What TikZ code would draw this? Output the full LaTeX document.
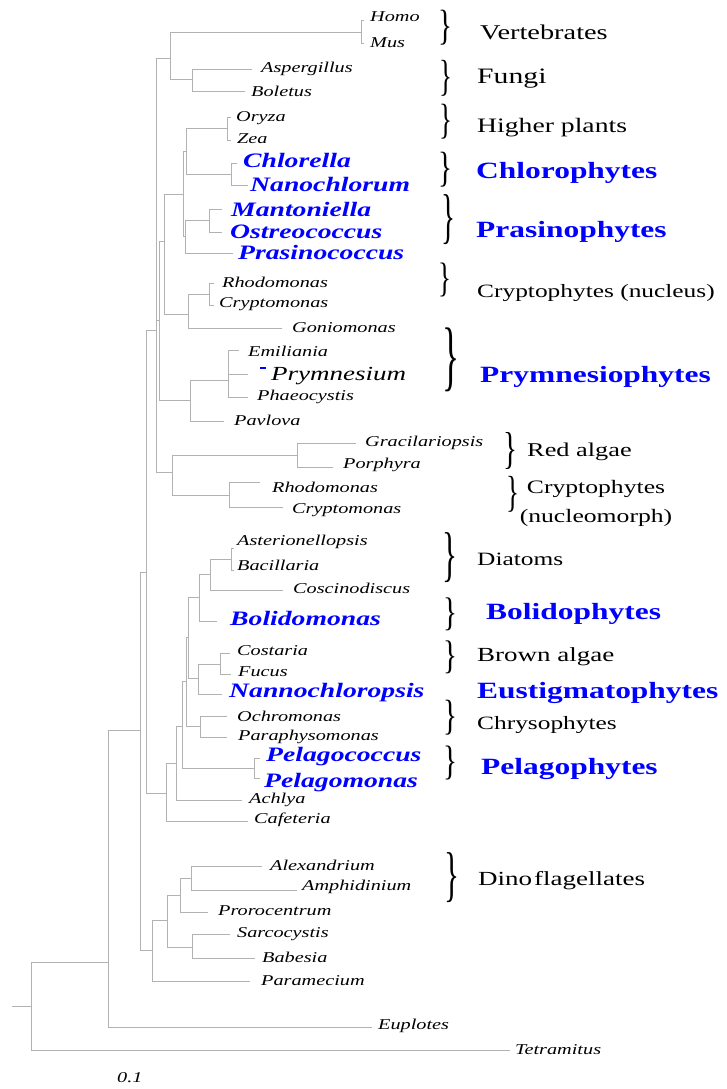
\documentclass[tikz,border=0pt]{standalone}
\usepackage{fontspec}
\setmainfont{Liberation Serif}[FakeStretch=1.35]
\newfontfamily\bracefont{Liberation Serif}
\usepackage{graphicx}
\usetikzlibrary{positioning}
\newcommand{\clade}[2]{\resizebox*{#1}{#2}{\bracefont\}}}
\begin{document}
\begin{tikzpicture}[x=1pt,y=-1pt,
 branch/.style={draw=gray!60,line width=0.9pt},
 taxon/.style={anchor=west,inner sep=0pt,font=\fontsize{15}{17}\selectfont\itshape},
 keyTaxon/.style={taxon,text=blue,font=\fontsize{20.5}{23}\selectfont\bfseries\itshape},
 group/.style={anchor=west,inner sep=0pt,font=\fontsize{20}{24}\selectfont},
 keyGroup/.style={group,text=blue,font=\fontsize{23.3}{27}\selectfont\bfseries},
 bracket/.style={inner sep=0pt}]
 \useasboundingbox (0,0) rectangle (726,1089);
 % internal nodes
 \coordinate (stem) at (12,1006);
 \coordinate (root) at (31,1006);
 \coordinate (g) at (108,962);
 \coordinate (f) at (140,730);
 \coordinate (e) at (146,572);
 \coordinate (c) at (156,330);
 \coordinate (vf) at (170,58);
 \coordinate (vert) at (361,32);
 \coordinate (fungi) at (192,79);
 \coordinate (b) at (159,320);
 \coordinate (a) at (164,241);
 \coordinate (green) at (183,194);
 \coordinate (plchl) at (186,151);
 \coordinate (plants) at (227,128);
 \coordinate (chloro) at (231,174);
 \coordinate (prasino) at (185,236);
 \coordinate (mantost) at (209,220);
 \coordinate (cryptoN) at (188,314);
 \coordinate (rhocry) at (209,294);
 \coordinate (prymn) at (190,400);
 \coordinate (ept) at (228,380);
 \coordinate (rednm) at (172,472);
 \coordinate (red) at (297,455);
 \coordinate (nucleo) at (229,495);
 \coordinate (s1) at (166,793);
 \coordinate (s2) at (176,763);
 \coordinate (s3) at (182,726);
 \coordinate (pelago) at (254,768);
 \coordinate (s4) at (186,681);
 \coordinate (chryso) at (200,726);
 \coordinate (s5) at (188,637);
 \coordinate (s6) at (199,597);
 \coordinate (s7) at (198,678);
 \coordinate (diatom) at (210,574);
 \coordinate (diatA) at (231,559);
 \coordinate (brown) at (220,664);
 \coordinate (alv) at (152,950);
 \coordinate (alv2) at (167,920);
 \coordinate (apic) at (192,947);
 \coordinate (dino) at (180,895);
 \coordinate (dinoA) at (191,878);
 % branch tips
 \coordinate (tHomo) at (364,20);
 \coordinate (tMus) at (364,43);
 \coordinate (tAsper) at (252,69);
 \coordinate (tBoletus) at (245,91);
 \coordinate (tOryza) at (231,117);
 \coordinate (tZea) at (231,140);
 \coordinate (tChlorella) at (237,163);
 \coordinate (tNano) at (248,185);
 \coordinate (tManto) at (222,209);
 \coordinate (tOstreo) at (222,232);
 \coordinate (tPrasino) at (233,253);
 \coordinate (tRhodoA) at (214,283);
 \coordinate (tCryptoA) at (214,305);
 \coordinate (tGonio) at (282,328);
 \coordinate (tEmil) at (239,350);
 \coordinate (tPrym) at (248,374);
 \coordinate (tPhaeo) at (248,397);
 \coordinate (tPavlova) at (224,421);
 \coordinate (tGracil) at (356,443);
 \coordinate (tPorph) at (333,467);
 \coordinate (tRhodoB) at (260,482);
 \coordinate (tCryptoB) at (283,507);
 \coordinate (tAster) at (234,548);
 \coordinate (tBacil) at (234,570);
 \coordinate (tCoscino) at (283,590);
 \coordinate (tBolido) at (217,621);
 \coordinate (tCostaria) at (230,653);
 \coordinate (tFucus) at (231,674);
 \coordinate (tNannoch) at (222,694);
 \coordinate (tOchro) at (227,716);
 \coordinate (tParaph) at (227,737);
 \coordinate (tPelagoc) at (260,758);
 \coordinate (tPelagom) at (260,778);
 \coordinate (tAchlya) at (242,800);
 \coordinate (tCafet) at (248,821);
 \coordinate (tAlex) at (262,866);
 \coordinate (tAmphi) at (297,890);
 \coordinate (tProro) at (208,912);
 \coordinate (tSarco) at (230,934);
 \coordinate (tBabesia) at (255,958);
 \coordinate (tParam) at (250,981);
 \coordinate (tEuplotes) at (372,1027);
 \coordinate (tTetra) at (510,1050);
 % branches
 \draw[branch] (stem) -- (root);
 \draw[branch] (root) |- (g) (root) |- (tTetra);
 \draw[branch] (g) |- (f) (g) |- (tEuplotes);
 \draw[branch] (f) |- (e) (f) |- (alv);
 \draw[branch] (e) |- (c) (e) |- (s1);
 \draw[branch] (c) |- (vf) (c) |- (b) (c) |- (rednm);
 \draw[branch] (vf) |- (vert) (vf) |- (fungi);
 \draw[branch] (vert) |- (tHomo) (vert) |- (tMus);
 \draw[branch] (fungi) |- (tAsper) (fungi) |- (tBoletus);
 \draw[branch] (b) |- (a) (b) |- (prymn);
 \draw[branch] (a) |- (green) (a) |- (cryptoN);
 \draw[branch] (green) |- (plchl) (green) |- (prasino);
 \draw[branch] (plchl) |- (plants) (plchl) |- (chloro);
 \draw[branch] (plants) |- (tOryza) (plants) |- (tZea);
 \draw[branch] (chloro) |- (tChlorella) (chloro) |- (tNano);
 \draw[branch] (prasino) |- (mantost) (prasino) |- (tPrasino);
 \draw[branch] (mantost) |- (tManto) (mantost) |- (tOstreo);
 \draw[branch] (cryptoN) |- (rhocry) (cryptoN) |- (tGonio);
 \draw[branch] (rhocry) |- (tRhodoA) (rhocry) |- (tCryptoA);
 \draw[branch] (prymn) |- (ept) (prymn) |- (tPavlova);
 \draw[branch] (ept) |- (tEmil) (ept) |- (tPrym) (ept) |- (tPhaeo);
 \draw[branch] (rednm) |- (red) (rednm) |- (nucleo);
 \draw[branch] (red) |- (tGracil) (red) |- (tPorph);
 \draw[branch] (nucleo) |- (tRhodoB) (nucleo) |- (tCryptoB);
 \draw[branch] (s1) |- (s2) (s1) |- (tCafet);
 \draw[branch] (s2) |- (s3) (s2) |- (tAchlya);
 \draw[branch] (s3) |- (s4) (s3) |- (pelago);
 \draw[branch] (pelago) |- (tPelagoc) (pelago) |- (tPelagom);
 \draw[branch] (s4) |- (s5) (s4) |- (chryso);
 \draw[branch] (chryso) |- (tOchro) (chryso) |- (tParaph);
 \draw[branch] (s5) |- (s6) (s5) |- (s7);
 \draw[branch] (s6) |- (diatom) (s6) |- (tBolido);
 \draw[branch] (diatom) |- (diatA) (diatom) |- (tCoscino);
 \draw[branch] (diatA) |- (tAster) (diatA) |- (tBacil);
 \draw[branch] (s7) |- (brown) (s7) |- (tNannoch);
 \draw[branch] (brown) |- (tCostaria) (brown) |- (tFucus);
 \draw[branch] (alv) |- (alv2) (alv) |- (tParam);
 \draw[branch] (alv2) |- (dino) (alv2) |- (apic);
 \draw[branch] (apic) |- (tSarco) (apic) |- (tBabesia);
 \draw[branch] (dino) |- (dinoA) (dino) |- (tProro);
 \draw[branch] (dinoA) |- (tAlex) (dinoA) |- (tAmphi);
 % taxa
 \node[taxon] (homo) at (370,17) {Homo};
 \node[taxon] (mus) at (370,43) {Mus};
 \node[taxon] (asper) at (261,69) {Aspergillus};
 \node[taxon] (boletus) at (251,91) {Boletus};
 \node[taxon] (oryza) at (236,118) {Oryza};
 \node[taxon] (zea) at (237,139) {Zea};
 \node[keyTaxon] (chlorella) at (243,160) {Chlorella};
 \node[keyTaxon] (nano) at (250,185) {Nanochlorum};
 \node[keyTaxon] (manto) at (231,209) {Mantoniella};
 \node[keyTaxon] (ostreo) at (230,232) {Ostreococcus};
 \node[keyTaxon] (prasinoc) at (238,253) {Prasinococcus};
 \node[taxon] (rhodoA) at (222,282) {Rhodomonas};
 \node[taxon] (cryptoA) at (219,304) {Cryptomonas};
 \node[taxon] (gonio) at (292,328) {Goniomonas};
 \node[taxon] (emil) at (248,351) {Emiliania};
 \draw[blue,line width=1.2pt] (260,368) -- (266,368);
 \node[taxon,font=\fontsize{20}{23}\selectfont\itshape] (prym) at (271,376) {Prymnesium};
 \node[taxon] (phaeo) at (257,397) {Phaeocystis};
 \node[taxon] (pavlova) at (234,420) {Pavlova};
 \node[taxon] (gracil) at (365,443) {Gracilariopsis};
 \node[taxon] (porph) at (343,465) {Porphyra};
 \node[taxon] (rhodoB) at (272,487) {Rhodomonas};
 \node[taxon] (cryptoB) at (292,510) {Cryptomonas};
 \node[taxon] (aster) at (237,542) {Asterionellopsis};
 \node[taxon] (bacil) at (237,565) {Bacillaria};
 \node[taxon] (coscino) at (293,588) {Coscinodiscus};
 \node[keyTaxon] (bolido) at (230,618) {Bolidomonas};
 \node[taxon] (costaria) at (237,651) {Costaria};
 \node[taxon] (fucus) at (238,672) {Fucus};
 \node[keyTaxon] (nannoch) at (229,693) {Nannochloropsis};
 \node[taxon] (ochro) at (237,716) {Ochromonas};
 \node[taxon] (paraph) at (238,737) {Paraphysomonas};
 \node[keyTaxon] (pelagoc) at (266,757) {Pelagococcus};
 \node[keyTaxon] (pelagom) at (264,783) {Pelagomonas};
 \node[taxon] (achlya) at (249,800) {Achlya};
 \node[taxon] (cafet) at (254,820) {Cafeteria};
 \node[taxon] (alex) at (270,865) {Alexandrium};
 \node[taxon] (amphi) at (302,887) {Amphidinium};
 \node[taxon] (proro) at (218,911) {Prorocentrum};
 \node[taxon] (sarco) at (237,934) {Sarcocystis};
 \node[taxon] (babesia) at (262,957) {Babesia};
 \node[taxon] (param) at (261,981) {Paramecium};
 \node[taxon] (euplotes) at (378,1026) {Euplotes};
 \node[taxon] (tetra) at (515,1050) {Tetramitus};
 \node[taxon] (scale) at (117,1078) {0.1};
 % groups
 \node[bracket] (vertBr) at (445,28) {\clade{14pt}{35pt}};
 \node[group,font=\fontsize{21}{25}\selectfont] (vertTx) at (480,32) {Vertebrates};
 \node[bracket] (fungiBr) at (446,78) {\clade{13pt}{36pt}};
 \node[group,font=\fontsize{22}{26}\selectfont] (fungiTx) at (477,79) {Fungi};
 \node[bracket] (plantsBr) at (446,122) {\clade{13pt}{35pt}};
 \node[group,font=\fontsize{20.5}{24}\selectfont] (plantsTx) at (477,128) {Higher plants};
 \node[bracket] (chloroBr) at (445,170) {\clade{14pt}{35pt}};
 \node[keyGroup] (chloroTx) at (476,173) {Chlorophytes};
 \node[bracket] (prasinoBr) at (448,220) {\clade{14pt}{50pt}};
 \node[keyGroup] (prasinoTx) at (476,232) {Prasinophytes};
 \node[bracket] (cryptoNBr) at (445,280) {\clade{13pt}{34pt}};
 \node[group,font=\fontsize{18.8}{22}\selectfont] (cryptoNTx) at (477,293) {Cryptophytes (nucleus)};
 \node[bracket] (prymnBr) at (451,360) {\clade{17pt}{64pt}};
 \node[keyGroup] (prymnTx) at (480,377) {Prymnesiophytes};
 \node[bracket] (redBr) at (510,451) {\clade{14pt}{37pt}};
 \node[group,font=\fontsize{19.5}{23}\selectfont] (redTx) at (527,452) {Red algae};
 \node[bracket] (nucleoBr) at (513,494) {\clade{13pt}{36pt}};
 \node[group,anchor=north,align=center,font=\fontsize{19}{29}\selectfont] (nucleoTx) at (596,480) {Cryptophytes\\(nucleomorph)};
 \node[bracket] (diatomBr) at (450,558) {\clade{15pt}{50pt}};
 \node[group,font=\fontsize{18.8}{22}\selectfont] (diatomTx) at (477,559) {Diatoms};
 \node[bracket] (bolidoBr) at (450,614) {\clade{14pt}{33pt}};
 \node[keyGroup] (bolidoTx) at (486,614) {Bolidophytes};
 \node[bracket] (brownBr) at (450,657) {\clade{14pt}{33pt}};
 \node[group] (brownTx) at (477,657) {Brown algae};
 \node[keyGroup] (eustigTx) at (477,693) {Eustigmatophytes};
 \node[bracket] (chrysoBr) at (450,718) {\clade{14pt}{35pt}};
 \node[group,font=\fontsize{18.8}{22}\selectfont] (chrysoTx) at (477,725) {Chrysophytes};
 \node[bracket] (pelagoBr) at (450,763) {\clade{14pt}{34pt}};
 \node[keyGroup] (pelagoTx) at (481,769) {Pelagophytes};
 \node[bracket] (dinoBr) at (452,878) {\clade{15pt}{50pt}};
 \node[group] (dinoTx) at (478,881) {Dino\kern2pt flagellates};
\end{tikzpicture}
\end{document}
